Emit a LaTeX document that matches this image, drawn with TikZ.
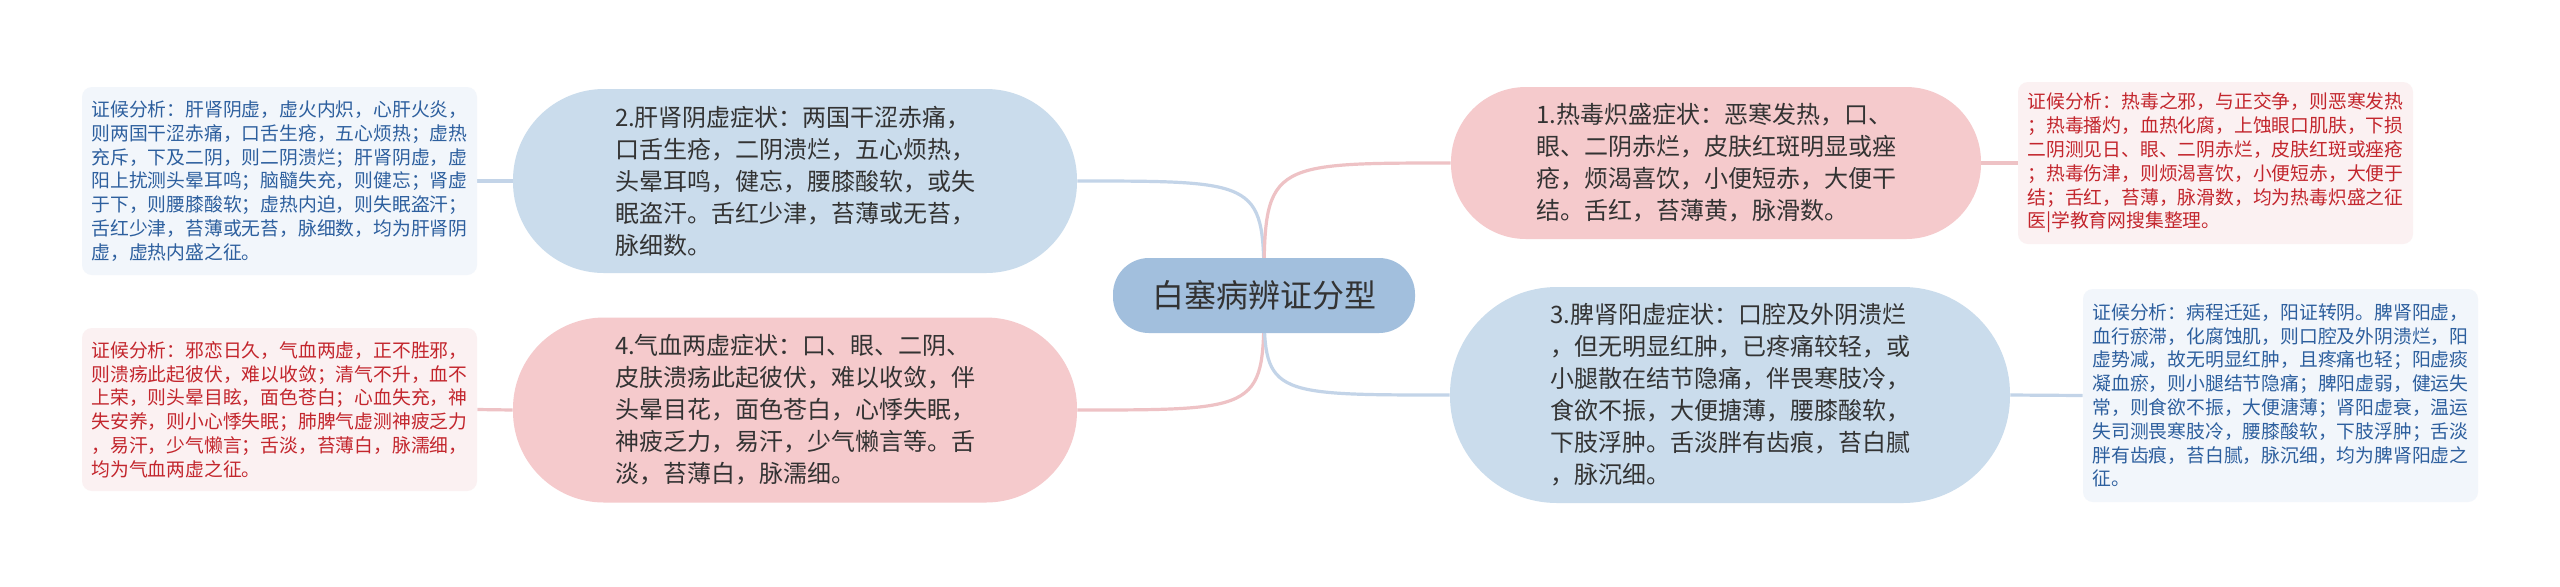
\documentclass[tikz,border=0pt]{standalone}
\usepackage{fontspec}
\setmainfont{Noto Sans CJK SC}
\definecolor{cfill}{HTML}{A2BFDD}
\definecolor{bfill}{HTML}{CADCEC}
\definecolor{pfill}{HTML}{F5CACC}
\definecolor{bline}{HTML}{C3D4E8}
\definecolor{pline}{HTML}{EEC2C5}
\definecolor{bnote}{HTML}{F2F6FB}
\definecolor{pnote}{HTML}{FBF1F2}
\definecolor{btext}{HTML}{2D5F9E}
\definecolor{ptext}{HTML}{C3262D}
\definecolor{dtext}{HTML}{333333}
\pgfdeclarelayer{back}
\pgfdeclarelayer{lines}
\pgfsetlayers{back,lines,main}
\tikzset{
  rootbox/.style={fill=cfill, rounded corners=18pt, minimum width=151pt, minimum height=37.5pt,
    inner sep=0pt, text=dtext, font=\fontsize{16}{20}\selectfont},
  branchbox/.style={rounded corners=#1, inner sep=0pt, align=left, text=dtext,
    font=\fontsize{12}{16}\selectfont},
  notebox/.style={rounded corners=5pt, inner sep=0pt, align=left, minimum width=197.5pt,
    font=\fontsize{9.4}{11.9}\selectfont},
  bluenote/.style={notebox, fill=bnote, text=btext},
  pinknote/.style={notebox, fill=pnote, text=ptext},
  bconn/.style={draw=bline, line width=1.6pt},
  pconn/.style={draw=pline, line width=1.6pt}
}
\begin{document}
\begin{tikzpicture}[x=0.5pt,y=-0.5pt]
\useasboundingbox (0,0) rectangle (2560,586);
\begin{pgfonlayer}{back}
\fill[white] (0,0) rectangle (2560,586);
\end{pgfonlayer}

\node[rootbox] (c) at (1264,295.5) {白塞病辨证分型};

\node[branchbox=45.5pt, fill=bfill, minimum width=282pt, minimum height=92pt] (n2) at (795,181) {2.肝肾阴虚症状：两国干涩赤痛，\\口舌生疮，二阴溃烂，五心烦热，\\头晕耳鸣，健忘，腰膝酸软，或失\\眠盗汗。舌红少津，苔薄或无苔，\\脉细数。};

\node[branchbox=45.5pt, fill=pfill, minimum width=282pt, minimum height=92.5pt] (n4) at (795,410) {4.气血两虚症状：口、眼、二阴、\\皮肤溃疡此起彼伏，难以收敛，伴\\头晕目花，面色苍白，心悸失眠，\\神疲乏力，易汗，少气懒言等。舌\\淡，苔薄白，脉濡细。};

\node[branchbox=37.5pt, fill=pfill, minimum width=265pt, minimum height=76pt] (n1) at (1716,163) {1.热毒炽盛症状：恶寒发热，口、\\眼、二阴赤烂，皮肤红斑明显或痤\\疮，烦渴喜饮，小便短赤，大便干\\结。舌红，苔薄黄，脉滑数。};

\node[branchbox=53.5pt, fill=bfill, minimum width=280pt, minimum height=108pt] (n3) at (1730,395) {3.脾肾阳虚症状：口腔及外阴溃烂\\，但无明显红肿，已疼痛较轻，或\\小腿散在结节隐痛，伴畏寒肢冷，\\食欲不振，大便搪薄，腰膝酸软，\\下肢浮肿。舌淡胖有齿痕，苔白腻\\，脉沉细。};

\node[bluenote, minimum height=94pt] (t2) at (279.5,181) {证候分析：肝肾阴虚，虚火内炽，心肝火炎，\\则两国干涩赤痛，口舌生疮，五心烦热；虚热\\充斥，下及二阴，则二阴溃烂；肝肾阴虚，虚\\阳上扰测头晕耳鸣；脑髓失充，则健忘；肾虚\\于下，则腰膝酸软；虚热内迫，则失眠盗汗；\\舌红少津，苔薄或无苔，脉细数，均为肝肾阴\\虚，虚热内盛之征。};

\node[pinknote, minimum height=81.5pt] (t4) at (279.5,409.5) {证候分析：邪恋日久，气血两虚，正不胜邪，\\则溃疡此起彼伏，难以收敛；清气不升，血不\\上荣，则头晕目眩，面色苍白；心血失充，神\\失安养，则小心悸失眠；肺脾气虚测神疲乏力\\，易汗，少气懒言；舌淡，苔薄白，脉濡细，\\均为气血两虚之征。};

\node[pinknote, minimum height=81pt] (t1) at (2215.5,163) {证候分析：热毒之邪，与正交争，则恶寒发热\\；热毒播灼，血热化腐，上蚀眼口肌肤，下损\\二阴测见日、眼、二阴赤烂，皮肤红斑或痤疮\\；热毒伤津，则烦渴喜饮，小便短赤，大便于\\结；舌红，苔薄，脉滑数，均为热毒炽盛之征\\医|学教育网搜集整理。};

\node[bluenote, minimum height=106.5pt] (t3) at (2280.5,395.5) {证候分析：病程迁延，阳证转阴。脾肾阳虚，\\血行瘀滞，化腐蚀肌，则口腔及外阴溃烂，阳\\虚势减，故无明显红肿，且疼痛也轻；阳虚痰\\凝血瘀，则小腿结节隐痛；脾阳虚弱，健运失\\常，则食欲不振，大便溏薄；肾阳虚衰，温运\\失司测畏寒肢冷，腰膝酸软，下肢浮肿；舌淡\\胖有齿痕，苔白腻，脉沉细，均为脾肾阳虚之\\征。};

\begin{pgfonlayer}{lines}
\draw[bconn] (c.center) .. controls (c.center |- n2.east) .. (n2.east);
\draw[pconn] (c.center) .. controls (c.center |- n4.east) .. (n4.east);
\draw[pconn] (c.center) .. controls (c.center |- n1.west) .. (n1.west);
\draw[bconn] (c.center) .. controls (c.center |- n3.west) .. (n3.west);
\draw[bconn] (n2.west) -- (t2.east);
\draw[pconn] (n4.west) -- (t4.east);
\draw[pconn] (n1.east) -- (t1.west);
\draw[bconn] (n3.east) -- (t3.west);
\end{pgfonlayer}
\end{tikzpicture}
\end{document}
